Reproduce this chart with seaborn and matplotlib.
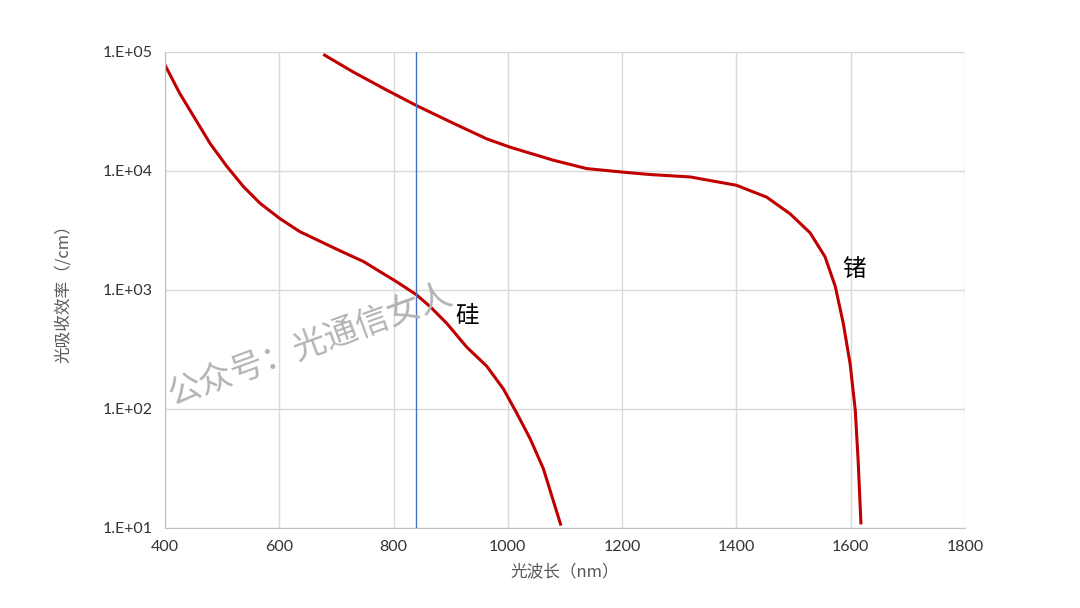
import numpy as np
import pandas as pd
import seaborn as sns
from matplotlib import pyplot as plt
from matplotlib.ticker import FixedLocator, FuncFormatter

# values (wavelength in nm, log10 of absorption in /cm)
si_nm = [400, 426, 450, 479, 508, 537, 566, 601, 636, 671, 706, 747, 805, 840, 864, 893,
         928, 963, 992, 1015, 1039, 1062, 1093]
si_log = [4.89, 4.65, 4.46, 4.23, 4.04, 3.87, 3.73, 3.60, 3.49, 3.41, 3.33, 3.24, 3.07, 2.96,
          2.86, 2.72, 2.52, 2.36, 2.17, 1.97, 1.75, 1.50, 1.02]

ge_nm = [677, 730, 788, 840, 905, 963, 1004, 1080, 1138, 1202, 1249, 1319, 1400, 1453, 1494,
         1529, 1555, 1573, 1587, 1599, 1608, 1613, 1618]
ge_log = [4.98, 4.83, 4.68, 4.55, 4.40, 4.27, 4.20, 4.09, 4.02, 3.99, 3.97, 3.95, 3.88, 3.78,
          3.64, 3.48, 3.28, 3.03, 2.72, 2.38, 1.99, 1.57, 1.03]

marker_nm = 840
x_ticks = [400, 600, 800, 1000, 1200, 1400, 1600, 1800]
y_ticks = [1e1, 1e2, 1e3, 1e4, 1e5]

df = pd.concat([
    pd.DataFrame({'nm': si_nm, 'alpha': np.power(10.0, si_log), 'material': '硅'}),
    pd.DataFrame({'nm': ge_nm, 'alpha': np.power(10.0, ge_log), 'material': '锗'}),
])

sns.set_style('white')
plt.rcParams['font.family'] = ['Noto Sans CJK SC', 'DejaVu Sans']

fig = plt.figure(figsize=(10.8, 6.08), dpi=100)
ax = fig.add_axes([0.1528, 0.1316, 0.7407, 0.7829])

sns.lineplot(data=df, x='nm', y='alpha', units='material', estimator=None,
             color='#C00000', linewidth=2.2, sort=False, ax=ax,
             solid_joinstyle='round', solid_capstyle='butt')
ax.axvline(marker_nm, color='#4472C4', linewidth=1.0)

ax.set_yscale('log')
ax.set_xlim(400, 1800)
ax.set_ylim(10, 1e5)
ax.xaxis.set_major_locator(FixedLocator(x_ticks))
ax.yaxis.set_major_locator(FixedLocator(y_ticks))
ax.yaxis.set_minor_locator(FixedLocator([]))
ax.yaxis.set_major_formatter(FuncFormatter(lambda v, p: f"1.E+{int(round(np.log10(v))):02d}"))
ax.grid(True, color='#d9d9d9', linewidth=1.0)
ax.set_axisbelow(True)
ax.tick_params(length=0, labelsize=11.5, labelcolor='#333333', pad=9)
for lab in ax.get_xticklabels() + ax.get_yticklabels():
    lab.set_family(['Lato', 'DejaVu Sans'])
for side in ['top', 'right']:
    ax.spines[side].set_visible(False)
for side in ['left', 'bottom']:
    ax.spines[side].set_color('#bfbfbf')

ax.set_xlabel('光波长（nm）', fontsize=12, color='#595959', labelpad=6)
ax.set_ylabel('光吸收效率（/cm）', fontsize=12, color='#595959', labelpad=22)

ax.text(928, 10 ** 2.78, '硅', fontsize=17, color='black', ha='center', va='center')
ax.text(1605, 10 ** 3.17, '锗', fontsize=17, color='black', ha='center', va='center')

# watermark
fig.text(310 / 1080, 1 - 345 / 608, '公众号：光通信女人', fontsize=24, color='#b3b3b3',
         rotation=20, ha='center', va='center', fontweight='light')

fig.savefig('out.png', dpi=100, facecolor='white')
